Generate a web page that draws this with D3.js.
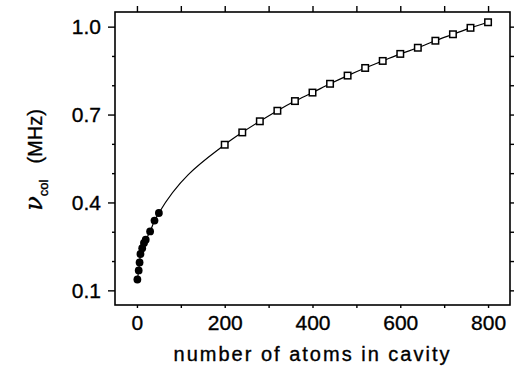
<!DOCTYPE html>
<html>
<head>
<meta charset="utf-8">
<script src="https://cdn.jsdelivr.net/npm/d3@7"></script>
<style>
  body { margin: 0; background: #fff; }
  svg text { font-family: "Liberation Sans", Arial, sans-serif; fill: #000; stroke: #000; stroke-width: 0.35px; }
</style>
</head>
<body>
<script>
// filled circles: small atom numbers
var circleN = [1, 4, 6, 8, 12, 16, 20, 30, 40, 50];
var circleNu = [0.137, 0.168, 0.195, 0.224, 0.244, 0.262, 0.273, 0.301, 0.338, 0.364];
// open squares: large atom numbers
var squareN = [200, 240, 280, 320, 360, 400, 440, 480, 520, 560, 600, 640, 680, 720, 760, 800];
var squareNu = [0.597, 0.639, 0.677, 0.713, 0.746, 0.775, 0.805, 0.833, 0.859, 0.883, 0.907, 0.928, 0.952, 0.974, 0.996, 1.015];
var xTicks = [0, 200, 400, 600, 800];
var xMinor = [100, 300, 500, 700];
var yTicks = [0.1, 0.4, 0.7, 1.0];
var yMinor = [0.2, 0.3, 0.5, 0.6, 0.8, 0.9];

var width = 514, height = 368;
var margin = {left: 115, right: 510, top: 12, bottom: 305};

var svg = d3.select("body").append("svg")
    .attr("width", width)
    .attr("height", height);

var x = d3.scaleLinear().domain([-50, 850]).range([margin.left, margin.right]);
var y = d3.scaleLinear().domain([0.05, 1.05]).range([margin.bottom, margin.top]);

var circles = circleN.map(function(n, i) { return {n: n, v: circleNu[i]}; });
var squares = squareN.map(function(n, i) { return {n: n, v: squareNu[i]}; });
var all = circles.concat(squares);

// frame
svg.append("rect")
    .attr("x", margin.left).attr("y", margin.top)
    .attr("width", margin.right - margin.left).attr("height", margin.bottom - margin.top)
    .attr("fill", "none").attr("stroke", "#000").attr("stroke-width", 1.6);

function styleAxis(g) {
  g.select(".domain").remove();
  g.selectAll(".tick line").attr("stroke", "#000").attr("stroke-width", 1.4);
  g.selectAll("text").style("font-size", "21px");
}

// left axis
svg.append("g")
    .attr("transform", "translate(" + margin.left + ",0)")
    .call(d3.axisLeft(y).tickValues(yTicks).tickSize(7).tickPadding(7).tickFormat(d3.format(".1f")))
    .call(styleAxis);
svg.append("g")
    .attr("transform", "translate(" + margin.left + ",0)")
    .call(d3.axisLeft(y).tickValues(yMinor).tickSize(3).tickFormat(""))
    .call(styleAxis);
// right axis
svg.append("g")
    .attr("transform", "translate(" + margin.right + ",0)")
    .call(d3.axisRight(y).tickValues(yTicks.concat(yMinor)).tickSize(4).tickFormat(""))
    .call(styleAxis);
// bottom axis
svg.append("g")
    .attr("transform", "translate(0," + margin.bottom + ")")
    .call(d3.axisBottom(x).tickValues(xTicks.concat(xMinor)).tickSize(3).tickPadding(7)
      .tickFormat(function(d) { return xTicks.indexOf(d) >= 0 ? d : ""; }))
    .call(styleAxis);
// top axis
svg.append("g")
    .attr("transform", "translate(0," + margin.top + ")")
    .call(d3.axisTop(x).tickValues(xTicks.concat(xMinor)).tickSize(6).tickFormat(""))
    .call(styleAxis);

// fitted line through the points
var line = d3.line()
    .x(function(d) { return x(d.n); })
    .y(function(d) { return y(d.v); })
    .curve(d3.curveMonotoneX);
svg.append("path")
    .datum(all)
    .attr("d", line)
    .attr("fill", "none")
    .attr("stroke", "#000")
    .attr("stroke-width", 1.2);

svg.selectAll(".dot")
    .data(circles)
  .enter().append("circle")
    .attr("class", "dot")
    .attr("cx", function(d) { return x(d.n); })
    .attr("cy", function(d) { return y(d.v); })
    .attr("r", 3.9)
    .attr("fill", "#000");

var s = 6.5;
svg.selectAll(".sq")
    .data(squares)
  .enter().append("rect")
    .attr("class", "sq")
    .attr("x", function(d) { return x(d.n) - s / 2; })
    .attr("y", function(d) { return y(d.v) - s / 2; })
    .attr("width", s).attr("height", s)
    .attr("fill", "#fff")
    .attr("stroke", "#000")
    .attr("stroke-width", 1.5);

// axis labels
svg.append("text")
    .attr("x", (margin.left + margin.right) / 2)
    .attr("y", 361)
    .attr("text-anchor", "middle")
    .style("font-size", "20px")
    .style("letter-spacing", "2px")
    .text("number of atoms in cavity");

var yl = svg.append("text")
    .attr("transform", "translate(42,160) rotate(-90)")
    .attr("text-anchor", "middle")
    .style("font-size", "20px");
yl.append("tspan").style("font-family", "DejaVu Serif, serif").style("font-style", "italic").style("font-size", "24px").text("ν");
yl.append("tspan").attr("dy", 6).style("font-size", "13px").text("col");
yl.append("tspan").attr("dy", -6).attr("dx", 16).text("(MHz)");
</script>
</body>
</html>
